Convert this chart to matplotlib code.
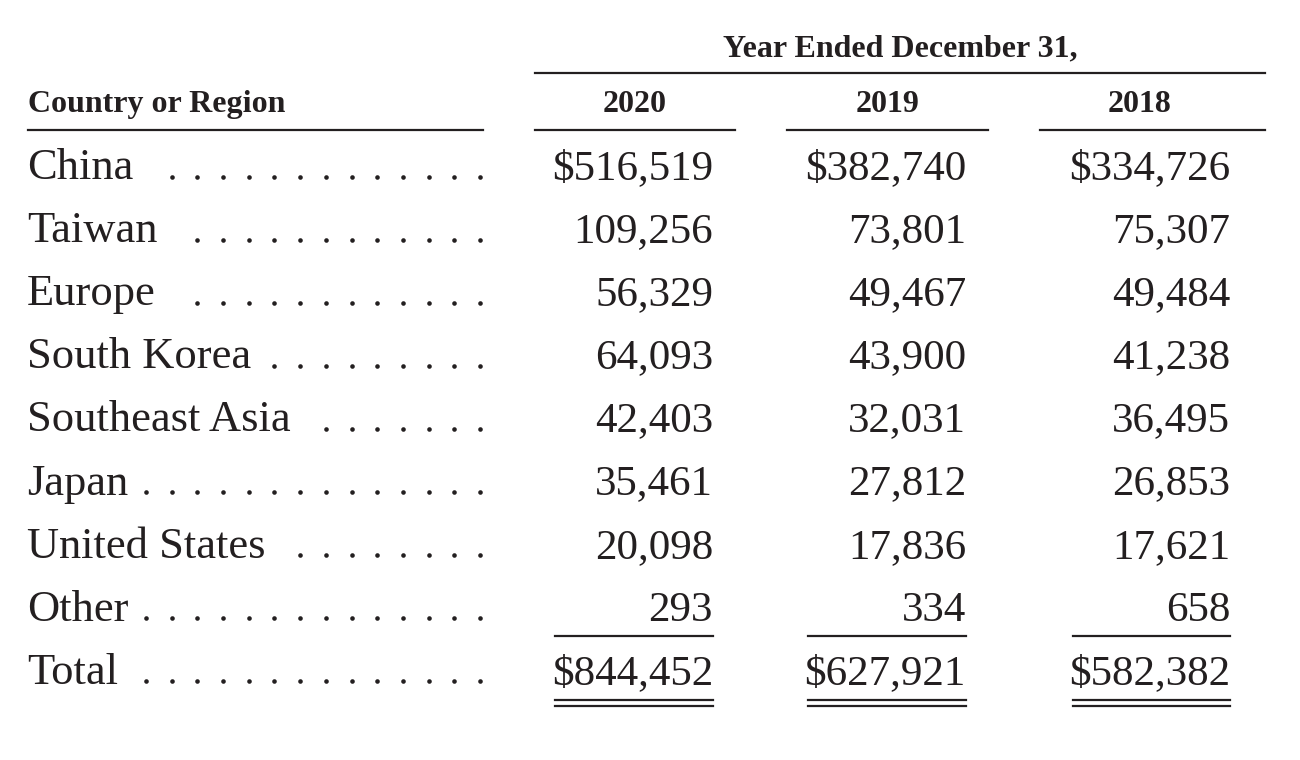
import matplotlib
matplotlib.use("Agg")
import matplotlib.pyplot as plt

regions = ["China", "Taiwan", "Europe", "South Korea", "Southeast Asia",
           "Japan", "United States", "Other", "Total"]
leader_dots = [13, 12, 12, 9, 7, 14, 8, 14, 14]
years = ["2020", "2019", "2018"]
rev_2020 = [516519, 109256, 56329, 64093, 42403, 35461, 20098, 293, 844452]
rev_2019 = [382740, 73801, 49467, 43900, 32031, 27812, 17836, 334, 627921]
rev_2018 = [334726, 75307, 49484, 41238, 36495, 26853, 17621, 658, 582382]
columns = [rev_2020, rev_2019, rev_2018]

plt.rcParams["font.family"] = ["Liberation Serif", "DejaVu Serif"]
ink = "#231f20"

fig = plt.figure(figsize=(13, 7.6), dpi=100)
ax = fig.add_axes([0, 0, 1, 1])
ax.set_xlim(0, 1300)
ax.set_ylim(760, 0)
ax.axis("off")

# header
ax.text(900, 56, "Year Ended December 31,", ha="center", va="baseline",
        fontsize=23, fontweight="bold", color=ink)
ax.plot([535, 1265], [73, 73], color=ink, lw=1.6)
ax.text(28, 112, "Country or Region", ha="left", va="baseline",
        fontsize=23, fontweight="bold", color=ink)
head_x = [635, 888, 1140]
head_lines = [(535, 735), (787, 988), (1040, 1265)]
for yr, hx in zip(years, head_x):
    ax.text(hx, 112, yr, ha="center", va="baseline", fontsize=23,
            fontweight="bold", color=ink)
ax.plot([28, 483], [130, 130], color=ink, lw=1.6)
for x0, x1 in head_lines:
    ax.plot([x0, x1], [130, 130], color=ink, lw=1.6)

# body rows
row_y = [179 + 63.1 * i for i in range(len(regions))]
val_right = [713, 966, 1230]
val_left = [555, 808, 1073]
for i, (name, y) in enumerate(zip(regions, row_y)):
    ax.text(27, y, name, ha="left", va="baseline", fontsize=32, color=ink)
    dots_x = [480 - 25.7 * k for k in range(leader_dots[i])]
    ax.plot(dots_x, [y - 2.5] * len(dots_x), ls="none", marker="o", ms=3.3,
            color=ink, mec="none")
    for col, xr in zip(columns, val_right):
        s = f"{col[i]:,}"
        if i == 0 or i == len(regions) - 1:
            s = "$" + s
        ax.text(xr, y, s, ha="right", va="baseline", fontsize=31, color=ink)

# total rules
for xl, xr in zip(val_left, val_right):
    ax.plot([xl, xr], [636, 636], color=ink, lw=1.6)
    ax.plot([xl, xr], [700, 700], color=ink, lw=1.6)
    ax.plot([xl, xr], [706, 706], color=ink, lw=1.6)

fig.savefig("out.png", dpi=100, facecolor="white")
